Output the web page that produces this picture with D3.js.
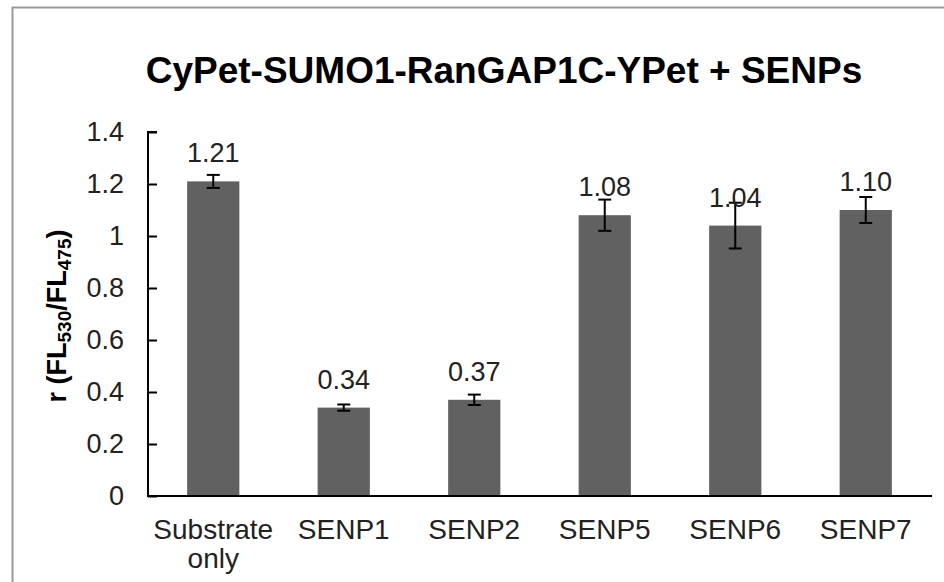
<!DOCTYPE html>
<html>
<head>
<meta charset="utf-8">
<script src="https://cdn.jsdelivr.net/npm/d3@7"></script>
<style>
  body { margin: 0; background: #fff; }
  svg { display: block; font-family: "Liberation Sans", Arial, sans-serif; }
</style>
</head>
<body>
<div id="chart"></div>
<script>
// data
const categories = ["Substrate only", "SENP1", "SENP2", "SENP5", "SENP6", "SENP7"];
const values = [1.21, 0.34, 0.37, 1.08, 1.04, 1.10];
const errors = [0.025, 0.012, 0.02, 0.06, 0.088, 0.05];
const yTicks = [0, 0.2, 0.4, 0.6, 0.8, 1, 1.2, 1.4];

const width = 944, height = 582;

const svg = d3.select("#chart")
    .append("svg")
    .attr("width", width)
    .attr("height", height);

// outer frame
svg.append("rect")
    .attr("x", 12.5).attr("y", 7.5)
    .attr("width", 960).attr("height", 620)
    .attr("fill", "none")
    .attr("stroke", "#9a9a9a")
    .attr("stroke-width", 2);

const x = d3.scaleBand()
    .domain(categories)
    .range([148, 931])
    .paddingInner(0.6)
    .paddingOuter(0.3);

const y = d3.scaleLinear()
    .domain([0, 1.4])
    .range([496, 132]);

const data = categories.map((c, i) => ({ cat: c, v: values[i], e: errors[i] }));

// title
svg.append("text")
    .attr("x", 504)
    .attr("y", 83)
    .attr("text-anchor", "middle")
    .attr("font-size", 37)
    .attr("font-weight", "bold")
    .attr("fill", "#000")
    .text("CyPet-SUMO1-RanGAP1C-YPet  + SENPs");

// bars
svg.append("g")
    .selectAll("rect")
    .data(data)
    .enter()
    .append("rect")
    .attr("x", d => x(d.cat))
    .attr("y", d => y(d.v))
    .attr("width", x.bandwidth())
    .attr("height", d => y(0) - y(d.v))
    .attr("fill", "#616161");

// error bars
const err = svg.append("g")
    .attr("stroke", "#000")
    .attr("stroke-width", 2)
    .selectAll("g")
    .data(data)
    .enter()
    .append("g");

err.append("line")
    .attr("x1", d => x(d.cat) + x.bandwidth() / 2)
    .attr("x2", d => x(d.cat) + x.bandwidth() / 2)
    .attr("y1", d => y(d.v + d.e))
    .attr("y2", d => y(d.v - d.e));

[1, -1].forEach(s => {
    err.append("line")
        .attr("x1", d => x(d.cat) + x.bandwidth() / 2 - 6.5)
        .attr("x2", d => x(d.cat) + x.bandwidth() / 2 + 6.5)
        .attr("y1", d => y(d.v + s * d.e))
        .attr("y2", d => y(d.v + s * d.e));
});

// value labels
svg.append("g")
    .selectAll("text")
    .data(data)
    .enter()
    .append("text")
    .attr("x", d => x(d.cat) + x.bandwidth() / 2)
    .attr("y", d => y(d.v) - 19)
    .attr("text-anchor", "middle")
    .attr("font-size", 27)
    .attr("fill", "#222")
    .text(d => d.v.toFixed(2));

// y axis
const yAxis = svg.append("g")
    .attr("transform", "translate(148,0)")
    .call(d3.axisRight(y).tickValues(yTicks).tickSize(9).tickFormat(d3.format("")));

yAxis.select(".domain").attr("stroke-width", 2).attr("d", `M9,${y(1.4)}H0V${y(0)}`);
yAxis.selectAll(".tick line").attr("stroke-width", 2);
yAxis.selectAll(".tick text")
    .attr("x", -24)
    .attr("text-anchor", "end")
    .attr("font-size", 27)
    .attr("font-family", "Liberation Sans, Arial, sans-serif")
    .attr("fill", "#222");

// x axis
const xAxis = svg.append("g")
    .attr("transform", `translate(0,${y(0)})`)
    .call(d3.axisBottom(x).tickSize(0).tickFormat(""));

xAxis.select(".domain").attr("stroke-width", 2).attr("d", "M147,0H932");

xAxis.selectAll(".tick text").remove();
xAxis.selectAll(".tick")
    .append("text")
    .attr("y", 43)
    .attr("text-anchor", "middle")
    .attr("font-size", 28)
    .attr("font-family", "Liberation Sans, Arial, sans-serif")
    .attr("fill", "#222")
    .each(function (d) {
        const words = d.split(" ");
        words.forEach((w, i) => {
            d3.select(this).append("tspan")
                .attr("x", 0)
                .attr("dy", i === 0 ? 0 : 29)
                .text(w);
        });
    });

// y axis title with subscripts
const yt = svg.append("text")
    .attr("transform", `translate(66,${(y(0) + y(1.4)) / 2 + 2}) rotate(-90)`)
    .attr("text-anchor", "middle")
    .attr("font-size", 27)
    .attr("font-weight", "bold")
    .attr("fill", "#000");

yt.append("tspan").text("r (FL");
yt.append("tspan").attr("font-size", 19).attr("dy", 5).text("530");
yt.append("tspan").attr("dy", -5).text("/FL");
yt.append("tspan").attr("font-size", 19).attr("dy", 5).text("475");
yt.append("tspan").attr("dy", -5).text(")");
</script>
</body>
</html>
